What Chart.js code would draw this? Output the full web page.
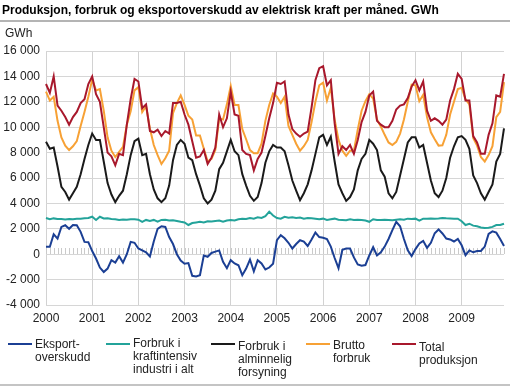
<!DOCTYPE html>
<html>
<head>
<meta charset="utf-8">
<script src="https://cdn.jsdelivr.net/npm/chart.js@4/dist/chart.umd.min.js"></script>
<style>
  html, body { margin: 0; padding: 0; background: #fff; }
  #wrap { position: relative; width: 510px; height: 386px; overflow: hidden; font-family: "Liberation Sans", Arial, sans-serif; }
  #c { position: absolute; left: 0; top: 0; }
  #title { position: absolute; left: 2px; top: 3px; font-size: 12px; font-weight: bold; line-height: 14px; color: #000; white-space: nowrap; }
  #rule1 { position: absolute; left: 0; top: 20px; width: 510px; height: 2px; background: #b4b4b4; }
  #rule2 { position: absolute; left: 0; top: 384px; width: 510px; height: 2px; background: #c4c4c4; }
  #unit { position: absolute; left: 5px; top: 26px; font-size: 12px; line-height: 14px; color: #222; }
  .lg { position: absolute; font-size: 12px; line-height: 13px; color: #222; }
  .lg .sw { position: absolute; width: 24px; height: 2px; }
  .lg .tx { position: absolute; white-space: nowrap; }
</style>
</head>
<body>
<div id="wrap">
  <canvas id="c" width="510" height="386"></canvas>
  <div id="title"></div>
  <div id="rule1"></div>
  <div id="unit"></div>
  <div id="legend"></div>
  <div id="rule2"></div>
</div>
<script>
const titleText = 'Produksjon, forbruk og eksportoverskudd av elektrisk kraft per måned. GWh';
const unitText = 'GWh';
const years = ['2000','2001','2002','2003','2004','2005','2006','2007','2008','2009'];
const months = ['01','02','03','04','05','06','07','08','09','10','11','12'];
const yMin = -4000, yMax = 16000, yStep = 2000;

const seriesNames = [
  ['Eksport-', 'overskudd'],
  ['Forbruk i', 'kraftintensiv', 'industri i alt'],
  ['Forbruk i', 'alminnelig', 'forsyning'],
  ['Brutto', 'forbruk'],
  ['Total', 'produksjon']
];

const eksportoverskudd = [
  580, 580, 1570, 1230, 2150, 2280, 2000, 2300, 2280, 1760, 970, 950,
  250, -340, -1050, -1400, -1130, -470, -660, -160, -660, 0, 970, 900,
  450, 300, 150, -180, 1000, 2000, 2200, 2150, 1350, 800, 0, -500,
  -750, -700, -1700, -1750, -1650, -100, -200, 100, 200, 300, -600, -1100,
  -470, -730, -870, -1650, -1130, -420, -1350, -470, -730, -1200, -1050, -750,
  1100, 1500, 1250, 900, 450, 800, 1100, 1000, 650, 1150, 1700, 1350,
  1300, 1200, 600, -300, -1100, 350, 450, 450, -250, -800, -900, -850,
  -100, 550, -100, 150, 600, 1200, 1900, 2550, 2200, 1200, 300, -150,
  400, 850, 1050, 500, 900, 1650, 1950, 1630, 1230, 1160, 1000, 1200,
  700, -80, 300, 150, 250, 250, 600, 1600, 1800, 1700, 1200, 650
];
const kraftintensiv = [
  2850, 2750, 2820, 2780, 2780, 2740, 2780, 2760, 2790, 2800, 2830, 2850,
  2950, 2700, 2950, 2820, 2830, 2780, 2760, 2700, 2740, 2720, 2760, 2750,
  2720, 2550, 2700, 2620, 2700, 2560, 2700, 2720, 2650, 2680, 2620, 2550,
  2500, 2300, 2450, 2500, 2550, 2500, 2600, 2580, 2620, 2650, 2550, 2650,
  2700, 2650, 2750, 2800, 2780, 2850, 2800, 2900, 2850, 3000, 3350, 3050,
  2850, 2800, 2950, 2880, 2900, 2860, 2880, 2800, 2850, 2830, 2800, 2750,
  2800, 2700, 2750, 2800, 2720, 2700, 2680, 2750, 2700, 2720, 2700, 2650,
  2550, 2750, 2700, 2700, 2720, 2700, 2680, 2720, 2750, 2720, 2800, 2780,
  2800, 2650, 2800, 2800, 2820, 2800, 2820, 2850, 2830, 2820, 2800, 2800,
  2600, 2300, 2400, 2250, 2200, 2100, 2070, 2080, 2150, 2300, 2300, 2400
];
const alminnelig = [
  8850, 8300, 8400, 6900, 5300, 4900, 4300, 4800, 5300, 6300, 7500, 8600,
  9500, 9000, 9000, 7300, 5600, 4700, 4100, 4600, 5000, 6300, 7800, 8900,
  9100, 7800, 7900, 6300, 5100, 4400, 4100, 4400, 5400, 7400, 8600, 9000,
  8700, 7600, 7400, 6300, 5400, 4400, 4000, 4300, 5000, 6700, 7200, 8100,
  9000, 8100, 7800, 6300, 5400, 4600, 4200, 4500, 5600, 7200, 8100, 8600,
  8400, 8400, 8100, 7000, 5800, 5000, 4250, 4800, 5500, 6600, 7900, 9200,
  9400, 8600, 9250, 7300, 5500, 4800, 4200, 4500, 5100, 6600, 7500, 7900,
  9000, 8700, 8200, 6600, 6100, 4800, 4400, 4900, 6200, 7500, 8800, 9200,
  9200, 8400, 8600, 7200, 5800, 4800, 4500, 5000, 6000, 7600, 8500, 9200,
  9300, 9000, 8300, 6200, 5600, 4800, 4300, 4900, 5500, 7300, 7900, 9900
];
const bruttoForbruk = [
  12800, 12100, 12400, 10500, 9200, 8550, 8200, 8500, 8900, 10100, 11200, 12400,
  13750, 12900, 13000, 11300, 9200, 8150, 7650, 8050, 8450, 10200, 11250, 12900,
  13150, 11200, 11650, 9900, 8600, 7800, 7100, 7550, 8150, 11100, 11900, 12500,
  11750, 10900, 10600, 9350, 9350, 8300, 7300, 7500, 8200, 10700, 10600, 11800,
  13250, 11750, 11750, 9850, 9050, 8200, 7950, 7950, 8700, 10500, 11750, 12650,
  12400, 11900, 12400, 10100, 9400, 8700, 8150, 8500, 9000, 10400, 12000, 13300,
  13500, 12100, 13100, 10600, 9000, 8150, 7750, 8150, 8150, 9800, 11300, 12050,
  12600, 12250, 10600, 10050, 9400, 8800, 8600, 8850, 9500, 10600, 12000, 13350,
  13300, 12050, 12550, 10800, 9600, 9050, 8550, 8570, 9400, 11000, 12000, 13000,
  13100, 12200, 11800, 9150, 8550, 7650, 7300, 7800, 8500, 10800, 11200, 13550
];
const totalProduksjon = [
  13400, 12700, 14000, 11700, 11300, 10800, 10200, 10800, 11200, 11900, 12200, 13400,
  14000, 12600, 12000, 10000, 8000, 7700, 7000, 7900, 7800, 10200, 12200, 13800,
  13600, 11500, 11800, 9700, 9600, 9800, 9300, 9700, 9500, 11900, 11900, 12000,
  11000, 10200, 8900, 7600, 7700, 8200, 7100, 7600, 8400, 11000, 10000, 10700,
  12800, 11000, 10900, 8200, 7900, 7800, 6600, 7500, 8000, 9300, 10700, 11900,
  13500, 13400, 13600, 11000, 9850, 9500, 9250, 9500, 9650, 11550, 13700, 14650,
  14800, 13300, 13700, 10300, 7900, 8500, 8200, 8600, 7900, 9000, 10400, 11200,
  12500, 12800, 10500, 10200, 10000, 10000, 10500, 11400, 11700, 11800, 12300, 13200,
  13700, 12900, 13600, 11300, 10500, 10700, 10500, 10200, 10600, 12100, 13000, 14200,
  13800, 12100, 12100, 9300, 8800, 7900, 7900, 9400, 10300, 12500, 12400, 14200
];

const categories = [];
years.forEach(y => months.forEach(m => categories.push(y + 'M' + m)));

const colors = ['#1b3f94', '#23a39a', '#1a1a1a', '#f7a135', '#a8182c'];
const seriesData = [eksportoverskudd, kraftintensiv, alminnelig, bruttoForbruk, totalProduksjon];
const drawOrder = [2, 3, 4, 1, 0];

document.getElementById('title').textContent = titleText;
document.getElementById('unit').textContent = unitText;

// HTML legend
const legendPos = [
  {sx: 8, tx: 35, top: 337.5},
  {sx: 106, tx: 133, top: 336.5},
  {sx: 211, tx: 238, top: 339.5},
  {sx: 306, tx: 333, top: 338.5},
  {sx: 392, tx: 419, top: 340.5}
];
const legendEl = document.getElementById('legend');
seriesNames.forEach((lines, i) => {
  const p = legendPos[i];
  const sw = document.createElement('div');
  sw.className = 'lg';
  sw.innerHTML = '';
  const swatch = document.createElement('div');
  swatch.className = 'sw';
  swatch.style.left = p.sx + 'px';
  swatch.style.top = '343px';
  swatch.style.background = colors[i];
  const tx = document.createElement('div');
  tx.className = 'tx';
  tx.style.left = p.tx + 'px';
  tx.style.top = p.top + 'px';
  tx.innerHTML = lines.join('<br>');
  sw.appendChild(swatch);
  sw.appendChild(tx);
  legendEl.appendChild(sw);
});

function fmtNum(v) {
  const s = String(Math.abs(v)).replace(/\B(?=(\d{3})+(?!\d))/g, ' ');
  return (v < 0 ? '-' : '') + s;
}

const zeroTicks = {
  id: 'zeroTicks',
  beforeDatasetsDraw(chart) {
    const {ctx, scales: {x, y}} = chart;
    const y0 = Math.round(y.getPixelForValue(0));
    ctx.save();
    ctx.strokeStyle = '#cacaca';
    ctx.lineWidth = 1;
    ctx.beginPath();
    for (let i = 0; i < categories.length; i++) {
      const px = Math.round(x.getPixelForValue(i)) + 0.5;
      ctx.moveTo(px, y0 - 6);
      ctx.lineTo(px, y0);
    }
    ctx.stroke();
    ctx.restore();
  }
};

const fontFam = '"Liberation Sans", Arial, sans-serif';

new Chart(document.getElementById('c'), {
  type: 'line',
  data: {
    labels: categories,
    datasets: seriesData.map((d, i) => ({
      label: seriesNames[i].join(' '),
      data: d,
      borderColor: colors[i],
      backgroundColor: colors[i],
      borderWidth: 2,
      pointRadius: 0,
      tension: 0,
      fill: false,
      order: drawOrder[i]
    }))
  },
  plugins: [zeroTicks],
  options: {
    responsive: false,
    animation: false,
    events: [],
    layout: { padding: { top: 51, left: 0, right: 3, bottom: 61 } },
    plugins: {
      legend: { display: false },
      title: { display: false },
      tooltip: { enabled: false }
    },
    scales: {
      x: {
        type: 'category',
        offset: false,
        border: { display: false },
        grid: {
          drawTicks: false,
          color: (c) => (c.index % 12 === 0 ? '#d2d2d2' : 'rgba(0,0,0,0)'),
          lineWidth: 1
        },
        ticks: {
          autoSkip: false,
          maxRotation: 0,
          minRotation: 0,
          padding: 6,
          color: '#222',
          font: { family: fontFam, size: 12 },
          callback: (v, i) => (i % 12 === 0 ? years[i / 12] : '')
        },
        afterFit: (s) => { s.height = 20; }
      },
      y: {
        min: yMin,
        max: yMax,
        border: { display: false },
        grid: { drawTicks: false, color: '#d6d6d6', lineWidth: 1 },
        ticks: {
          stepSize: yStep,
          padding: 6,
          color: '#222',
          font: { family: fontFam, size: 12 },
          callback: (v) => fmtNum(v)
        },
        afterFit: (s) => { s.width = 46; }
      }
    }
  }
});
</script>
</body>
</html>
